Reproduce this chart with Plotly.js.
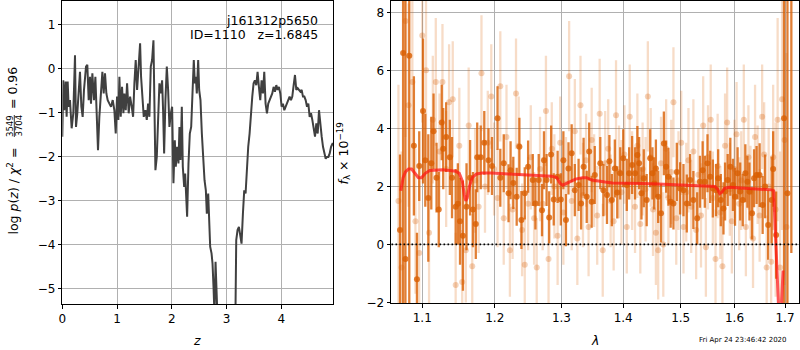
<!DOCTYPE html>
<html>
<head>
<meta charset="utf-8">
<script src="https://cdn.plot.ly/plotly-3.0.1.min.js"></script>
<style>body{margin:0;padding:0;background:#fff}#chart{width:800px;height:350px}</style>
</head>
<body>
<div id="chart"></div>
<script>
// ---- Left panel: log p(z)
var zGrid = [0.000,0.018,0.037,0.061,0.079,0.098,0.116,0.140,0.171,0.201,0.232,0.250,0.274,0.305,0.323,0.348,0.372,0.396,0.433,0.457,0.482,0.506,0.524,0.549,0.579,0.604,0.628,0.652,0.677,0.707,0.732,0.756,0.780,0.805,0.829,0.860,0.890,0.921,0.951,0.976,1.000,1.024,1.043,1.067,1.091,1.116,1.134,1.159,1.183,1.213,1.238,1.268,1.293,1.317,1.341,1.366,1.390,1.421,1.439,1.463,1.488,1.518,1.543,1.567,1.591,1.616,1.640,1.665,1.683,1.701,1.726,1.750,1.774,1.799,1.823,1.841,1.860,1.884,1.909,1.933,1.957,1.982,2.006,2.030,2.055,2.073,2.098,2.122,2.140,2.159,2.183,2.201,2.226,2.244,2.262,2.280,2.305,2.329,2.354,2.378,2.402,2.421,2.439,2.457,2.482,2.500,2.524,2.549,2.573,2.598,2.622,2.640,2.665,2.683,2.701,2.726,2.744,2.762,2.780,2.799,2.817,2.900,3.050,3.159,3.177,3.201,3.226,3.250,3.274,3.299,3.323,3.348,3.372,3.396,3.421,3.445,3.470,3.494,3.518,3.543,3.567,3.591,3.616,3.640,3.665,3.689,3.713,3.738,3.762,3.787,3.811,3.835,3.860,3.884,3.909,3.933,3.957,3.982,4.006,4.030,4.055,4.079,4.104,4.128,4.152,4.177,4.201,4.226,4.250,4.274,4.299,4.323,4.348,4.372,4.396,4.421,4.445,4.470,4.494,4.518,4.543,4.567,4.591,4.616,4.640,4.665,4.689,4.713,4.738,4.762,4.787,4.811,4.835,4.860,4.884,4.909,4.939,4.957];
var logPz = [-1.55,-0.27,-0.95,-0.30,-1.10,-0.30,-0.87,-0.72,-1.36,-1.02,0.30,-1.33,-1.02,-0.42,-0.08,-0.87,-1.10,-0.49,0.04,0.08,-0.72,-0.19,-0.80,-0.11,-0.72,-0.19,-1.25,-1.86,-1.10,-0.57,-0.08,-0.57,-0.11,-0.57,-0.72,-0.80,-0.87,-0.72,-0.95,-1.48,-0.64,-1.17,-0.19,-1.10,-0.42,-1.02,-0.57,-0.95,-0.34,-1.02,-0.64,-0.87,-1.10,-0.34,0.19,-0.49,-0.04,0.57,-0.19,-0.72,-1.10,-0.95,-1.17,-0.80,-1.10,0.04,0.19,0.64,-0.72,-2.31,-2.01,-0.95,-0.34,-0.57,-0.27,-0.95,-1.93,-0.72,0.04,-0.49,-1.33,-1.02,-0.87,-2.61,-1.63,-2.23,-1.78,-2.16,-1.33,-2.08,-0.87,-2.23,-2.69,-2.39,-2.92,-3.37,-2.16,-1.48,-1.33,-0.72,0.19,-0.34,-0.19,-0.57,0.19,-0.49,-0.72,-1.48,-2.08,-2.54,-2.77,-3.30,-2.84,-3.37,-4.05,-4.20,-4.43,-4.96,-5.6,-4.39,-5.6,-8,-8,-6,-3.90,-3.67,-3.60,-3.83,-3.98,-3.30,-2.77,-2.84,-2.16,-1.78,-1.48,-0.95,-0.64,-0.34,-0.27,-0.38,-0.08,-0.42,-0.72,-0.27,-0.57,-0.08,-0.80,-1.02,-0.80,-0.72,-0.64,-0.57,-0.42,-0.53,-0.38,-0.49,-0.42,-0.57,-0.87,-0.80,-0.95,-0.87,-0.80,-0.72,-0.64,-0.72,-0.64,-0.38,-0.15,-0.49,-0.45,-0.49,-0.53,-0.49,-0.64,-0.64,-0.72,-0.87,-0.80,-1.10,-1.02,-1.17,-1.33,-1.55,-1.25,-1.48,-0.95,-1.33,-1.55,-1.78,-1.93,-2.05,-2.01,-2.01,-1.93,-1.78,-1.70,-1.74];

// ---- Right panel: spectrum
var lightLam = [1.069,1.073,1.078,1.082,1.087,1.091,1.096,1.100,1.105,1.109,1.114,1.118,1.123,1.127,1.132,1.136,1.141,1.145,1.150,1.154,1.159,1.163,1.168,1.172,1.177,1.181,1.186,1.190,1.195,1.199,1.204,1.208,1.213,1.217,1.222,1.226,1.231,1.235,1.240,1.244,1.249,1.253,1.258,1.262,1.267,1.271,1.276,1.280,1.285,1.289,1.294,1.298,1.303,1.307,1.312,1.316,1.321,1.325,1.330,1.334,1.339,1.343,1.348,1.352,1.357,1.361,1.366,1.370,1.375,1.379,1.384,1.388,1.393,1.397,1.402,1.406,1.411,1.415,1.420,1.424,1.429,1.433,1.438,1.442,1.447,1.451,1.456,1.460,1.465,1.469,1.474,1.478,1.483,1.487,1.492,1.496,1.501,1.505,1.510,1.514,1.519,1.523,1.528,1.532,1.537,1.541,1.546,1.550,1.555,1.559,1.564,1.568,1.573,1.577,1.582,1.586,1.591,1.595,1.600,1.604,1.609,1.613,1.618,1.622,1.627,1.631,1.636,1.640,1.645,1.649,1.654,1.658,1.663,1.667,1.672,1.676,1.681,1.685,1.690,1.694,1.699,1.703];
var lightFlux = [1.5,-0.8,7.7,4.8,5.6,0.8,-0.3,7.2,6.0,0.4,
  4.3,5.6,3.2,5.6,2.6,4.9,5.0,-1.4,3.4,-1.3,
  -0.2,4.1,-0.75,2.2,1.3,5.9,2.0,3.5,5.1,2.6,
  1.6,5.45,0.9,3.7,-0.2,1.2,5.2,3.4,0.5,-0.7,
  1.4,3.0,0.9,-0.8,2.6,1.4,4.6,-0.5,3.3,2.0,
  0.3,3.5,1.1,2.1,5.8,1.5,3.9,0.2,4.8,1.7,
  2.9,0.6,3.6,2.2,1.0,4.5,-0.2,2.8,3.3,1.5,
  0.8,4.45,2.5,1.8,3.1,0.6,4.4,2.2,1.3,3.4,
  0.7,2.6,1.9,5.1,3.0,1.2,0.4,-0.2,2.8,0.0,
  3.3,1.6,2.5,4.9,0.9,2.2,3.5,0.6,1.8,2.9,
  1.3,3.2,0.5,2.4,1.0,4.1,-0.1,3.0,4.3,1.6,
  -0.5,2.7,1.1,-0.75,3.4,4.2,1.9,0.8,2.6,3.8,
  1.4,2.2,4.3,0.6,3.0,1.8,0.2,3.7,2.4,1.0,
  4.4,3.1,-0.8,2.0,-0.6,3.0,1.2,4.3,-0.8,5.0,
  3.6,0.6];
var lightErr = [4,4,4,3.5,3,2.5,2.5,3,3,2.5,
  2.2,2.2,2,2,2,2,2,1.8,2,1.8,
  1.8,2,1.8,1.8,1.6,2,1.6,1.8,1.8,1.6,
  1.7,1.9,1.6,1.8,1.6,1.7,1.9,1.7,1.6,1.7,
  1.6,1.8,1.6,1.7,1.8,1.6,1.9,1.7,1.6,1.8,
  1.7,1.6,1.8,1.6,1.9,1.7,1.8,1.6,1.7,1.8,
  1.6,1.7,1.8,1.6,1.7,1.9,1.6,1.8,1.7,1.6,
  1.7,1.9,1.6,1.8,1.7,1.6,1.8,1.7,1.6,1.8,
  1.7,1.6,1.8,1.9,1.7,1.6,1.8,1.7,1.6,1.8,
  1.7,1.6,1.8,1.9,1.6,1.7,1.8,1.6,1.7,1.8,
  1.6,1.8,1.7,1.6,1.8,1.7,1.7,1.8,1.9,1.6,
  1.7,1.8,1.6,1.7,1.8,1.9,1.6,1.8,1.7,1.8,
  1.6,1.7,1.9,1.7,1.8,1.6,1.7,1.8,1.7,1.6,
  1.8,1.8,1.8,2,2,2.5,3,3.5,4,4.5,
  5,6];

var darkLam = [1.071,1.075,1.078,1.083,1.089,1.093,1.096,1.101,1.104,1.108,
  1.112,1.115,1.119,1.122,1.126,1.128,1.132,1.137,1.140,1.145,
  1.148,1.151,1.155,1.160,1.165,1.169,1.173,1.175,1.180,1.185,
  1.191,1.196,1.204,1.208,1.213,1.220,1.223,1.227,1.232,1.236,
  1.239,1.244,1.249,1.256,1.260,1.265,1.270,1.273,1.277,1.281,
  1.284,1.288,1.294,1.299,1.303,1.307,1.311,1.316,1.321,1.327,
  1.331,1.335,1.340,1.344,
  1.348,1.353,1.362,1.367,1.373,1.377,1.381,1.386,1.390,1.395,
  1.400,1.406,1.410,1.415,1.420,1.424,1.427,1.431,1.435,1.440,
  1.446,1.450,1.453,1.456,1.460,1.465,1.470,1.474,1.478,1.482,
  1.487,1.493,1.499,1.505,1.511,1.517,1.523,1.530,1.535,1.540,
  1.544,1.549,1.554,1.559,1.565,1.569,1.574,1.579,1.582,1.587,
  1.592,1.597,1.601,1.606,1.611,1.616,1.621,1.625,1.629,1.634,
  1.638,1.643,1.649,1.655,1.660,1.666,1.673,1.676,1.682,1.698,
  1.705,1.713];
var darkFlux = [0.5,6.6,-0.5,6.5,3.4,-1.2,2.7,4.6,2.9,1.6,
  2.8,3.9,2.3,1.2,4.2,3.3,3.7,3.0,2.3,1.3,
  1.4,0.8,0.3,1.3,2.3,1.2,0.7,3.0,3.0,3.5,
  2.9,2.7,4.35,2.3,2.8,1.76,2.56,2.12,1.64,3.37,
  0.84,1.76,2.68,2.22,1.41,2.22,1.18,2.9,2.22,0.93,
  3.1,1.55,2.33,1.55,2.9,0.84,2.62,3.14,1.87,2.05,
  1.41,2.68,1.64,3.2,
  1.47,2.39,2.8,1.87,1.7,2.87,1.53,2.62,1.79,2.45,
  2.97,2.05,2.45,2.74,2.45,3.08,2.8,1.76,2.28,1.53,
  2.97,2.45,2.1,2.62,1.64,1.07,3.48,2.68,2.33,1.47,
  1.41,2.5,1.93,1.87,1.41,2.22,1.53,0.9,2.16,2.56,
  2.16,2.8,2.33,1.93,1.87,2.28,1.53,1.24,1.82,2.22,
  2.68,2.05,1.64,2.45,1.82,1.53,2.45,2.16,1.82,1.07,
  2.28,2.39,2.39,1.36,2.0,0.67,1.53,2.6,0.32,4.35,
  1.76,9];
var darkErr = [2.6,9,9,9,2.4,1.6,1.2,2.5,1.6,2.2,
  1.6,1.3,1.2,1.3,1.3,1.4,1.2,1.3,1.4,1.3,
  1.4,1.5,1.9,1.5,1.3,1.3,1.2,1.2,1.1,1.1,
  1.1,1.0,1.1,1.0,1.0,1.0,1.0,0.9,1.0,1.0,
  1.0,0.9,0.9,0.9,0.9,0.9,0.9,1.0,0.9,0.9,
  1.0,0.9,0.9,0.9,1.0,0.9,0.9,1.0,0.9,0.9,
  0.9,1.0,0.9,1.0,
  0.9,1.0,0.9,0.9,1.0,0.9,0.9,1.0,0.9,0.9,
  1.0,0.9,0.9,1.0,0.9,1.0,0.9,0.9,1.0,0.9,
  1.0,0.9,0.9,1.0,0.9,1.0,1.1,0.9,1.0,0.9,
  0.9,1.0,0.9,0.9,1.0,0.9,1.0,0.9,0.9,1.0,
  0.9,1.0,0.9,1.0,0.9,1.0,0.9,0.9,1.0,0.9,
  1.0,0.9,1.0,0.9,1.0,0.9,1.0,0.9,1.0,0.9,
  1.0,1.0,1.1,1.0,1.1,1.2,1.5,1.3,1.5,9,
  9,9.3];

var modelLam = [1.072,1.075,1.078,1.082,1.086,1.091,1.095,1.099,1.104,1.110,1.118,1.127,1.137,1.145,1.150,1.154,1.157,1.159,1.161,1.164,1.168,1.174,1.182,1.195,1.220,1.245,1.270,1.285,1.293,1.298,1.302,1.306,1.313,1.322,1.333,1.340,1.348,1.358,1.370,1.382,1.400,1.430,1.460,1.490,1.520,1.550,1.563,1.568,1.572,1.576,1.581,1.590,1.610,1.640,1.660,1.673,1.677,1.679,1.681,1.684,1.687,1.690,1.693,1.696];
var modelFlux = [1.85,2.3,2.5,2.6,2.6,2.45,2.3,2.3,2.45,2.55,2.57,2.57,2.55,2.52,2.45,2.2,1.7,1.5,1.6,2.0,2.3,2.43,2.46,2.46,2.43,2.40,2.38,2.35,2.3,2.1,2.04,2.08,2.17,2.25,2.3,2.3,2.22,2.18,2.15,2.12,2.12,2.1,2.08,2.05,2.03,2.0,2.0,1.9,1.75,1.8,1.93,1.97,1.95,1.92,1.9,1.88,1.85,1.0,0.3,-0.9,-2.2,-2.6,-2.0,-0.9];

var zTicks = [0,1,2,3,4];
var pzTicks = [-5,-4,-3,-2,-1,0,1];
var lamTicks = [1.1,1.2,1.3,1.4,1.5,1.6,1.7];
var lamTickText = ['1.1','1.2','1.3','1.4','1.5','1.6','1.7'];
var fluxTicks = [-2,0,2,4,6,8];

var W = 800, H = 350;
function px(x){return x/W;}
function py(y){return 1 - y/H;}

var orange = 'rgba(217,95,2,0.8)';
var orangeLight = 'rgba(217,95,2,0.28)';

var traces = [
  {x: zGrid, y: logPz, xaxis:'x', yaxis:'y', mode:'lines', type:'scatter',
   line:{color:'#404040', width:2}, hoverinfo:'skip'},
  {x: lightLam, y: lightFlux, xaxis:'x2', yaxis:'y2', mode:'markers', type:'scatter',
   marker:{color:orangeLight, size:6, line:{width:0}},
   error_y:{type:'data', array: lightErr, visible:true, color:'rgba(217,95,2,0.22)', thickness:2.3, width:0}},
  {x: darkLam, y: darkFlux, xaxis:'x2', yaxis:'y2', mode:'markers', type:'scatter',
   marker:{color:orange, size:6, line:{width:0}},
   error_y:{type:'data', array: darkErr, visible:true, color:orange, thickness:2.3, width:0}},
  {x: modelLam, y: modelFlux, xaxis:'x2', yaxis:'y2', mode:'lines', type:'scatter',
   line:{color:'rgba(255,20,20,0.72)', width:3}},
  {x: [1.05, 1.75], y: [0, 0], xaxis:'x2', yaxis:'y2', mode:'lines', type:'scatter',
   line:{color:'black', width:1.6, dash:'1.6px,2.4px'}}
];

var axCommon = {
  ticks:'outside', ticklen:3.5, tickwidth:1, tickcolor:'black',
  showline:true, linecolor:'black', linewidth:1, mirror:true,
  showgrid:true, gridcolor:'#b0b0b0', gridwidth:1, zeroline:false,
  tickfont:{family:'DejaVu Sans', size:12, color:'black'}
};
function ax(o){var r={}; for(var k in axCommon) r[k]=axCommon[k]; for(var k2 in o) r[k2]=o[k2]; return r;}

var tf = {family:'DejaVu Sans', size:12.5, color:'black'};

var layout = {
  width: W, height: H,
  margin:{l:0, r:0, t:0, b:0},
  paper_bgcolor:'white', plot_bgcolor:'white',
  showlegend:false,
  font:{family:'DejaVu Sans', size:12, color:'black'},
  xaxis: ax({domain:[px(62.3), px(333.3)], range:[0, 4.95], tickvals: zTicks, anchor:'y'}),
  yaxis: ax({domain:[py(304), py(1)], range:[-5.35, 1.53], tickvals: pzTicks, anchor:'x'}),
  xaxis2: ax({domain:[px(391), px(799.3)], type:'log', range:[0.0251, 0.2379], tickvals: lamTicks, ticktext: lamTickText, anchor:'y2'}),
  yaxis2: ax({domain:[py(303.3), py(1)], range:[-2.03, 8.39], tickvals: fluxTicks, anchor:'x2'}),
  shapes:[
    {type:'line', xref:'paper', yref:'paper', x0:px(14.3), x1:px(14.3), y0:py(115), y1:py(137), line:{color:'black', width:0.8}}
  ],
  annotations:[
    {text:'j161312p5650', xref:'paper', yref:'paper', x:px(319.5), y:py(20), xanchor:'right', yanchor:'middle', showarrow:false, font:tf},
    {text:'ID=1110\u00a0\u00a0\u00a0z=1.6845', xref:'paper', yref:'paper', x:px(319.5), y:py(34.5), xanchor:'right', yanchor:'middle', showarrow:false, font:tf},
    {text:'log <i>p</i>(<i>z</i>) / <i>χ</i><sup>2</sup> =', xref:'paper', yref:'paper', x:px(12.5), y:py(191), xanchor:'center', yanchor:'middle', textangle:-90, showarrow:false, font:tf},
    {text:'3549', xref:'paper', yref:'paper', x:px(10), y:py(126), xanchor:'center', yanchor:'middle', textangle:-90, showarrow:false, font:{family:'DejaVu Sans', size:8.5, color:'black'}},
    {text:'3704', xref:'paper', yref:'paper', x:px(18.5), y:py(126), xanchor:'center', yanchor:'middle', textangle:-90, showarrow:false, font:{family:'DejaVu Sans', size:8.5, color:'black'}},
    {text:'= 0.96', xref:'paper', yref:'paper', x:px(12.5), y:py(88.5), xanchor:'center', yanchor:'middle', textangle:-90, showarrow:false, font:tf},
    {text:'<i>z</i>', xref:'paper', yref:'paper', x:px(196.7), y:py(340), xanchor:'center', yanchor:'middle', showarrow:false, font:tf},
    {text:'<i>f</i><sub>λ</sub> × 10<sup>−19</sup>', xref:'paper', yref:'paper', x:px(343.5), y:py(154), xanchor:'center', yanchor:'middle', textangle:-90, showarrow:false, font:tf},
    {text:'<i>λ</i>', xref:'paper', yref:'paper', x:px(595), y:py(340), xanchor:'center', yanchor:'middle', showarrow:false, font:tf},
    {text:'Fri Apr 24 23:46:42 2020', xref:'paper', yref:'paper', x:px(788.5), y:py(339.5), xanchor:'right', yanchor:'middle', showarrow:false, font:{family:'DejaVu Sans', size:7, color:'black'}}
  ]
};

Plotly.newPlot('chart', traces, layout, {displayModeBar:false, staticPlot:true});
</script>
</body>
</html>
